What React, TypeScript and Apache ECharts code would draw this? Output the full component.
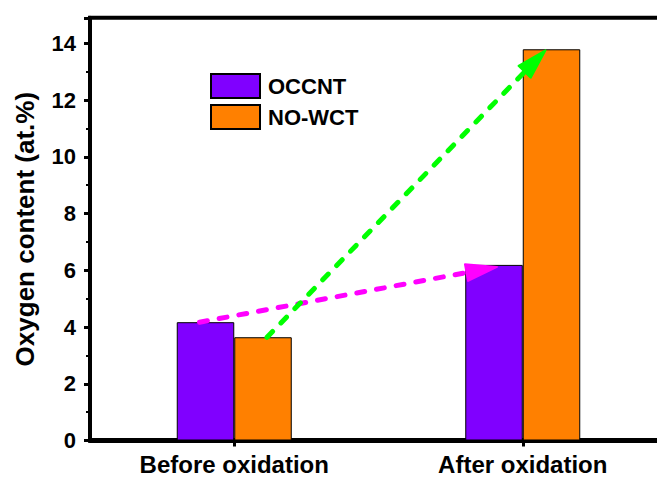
import React, { useEffect, useRef } from 'react';
import * as echarts from 'echarts';

const categories = ['Before oxidation', 'After oxidation'];
const seriesNames = ['OCCNT', 'NO-WCT'];
const occntValues = [4.17, 6.19];
const nowctValues = [3.64, 13.79];
const yMin = 0;
const yMax = 14.9;
const yInterval = 2;

const FONT = "'Liberation Sans', Arial, Helvetica, sans-serif";
const PURPLE = '#8000FF';
const ORANGE = '#FF8000';
const BAR_W = 57.5;

export default function App() {
  const ref = useRef<HTMLDivElement>(null);
  useEffect(() => {
    const chart = echarts.init(ref.current!, null, { renderer: 'svg' });
    chart.setOption({
      animation: false,
      backgroundColor: '#fff',
      grid: {
        left: 90, width: 577, top: 17.8, bottom: 40.5,
        containLabel: false,
        outerBoundsMode: 'none',
        show: true, borderWidth: 4, borderColor: '#000', backgroundColor: 'transparent',
      },
      legend: {
        data: seriesNames,
        orient: 'vertical',
        left: 210, top: 73,
        padding: 0,
        itemWidth: 49, itemHeight: 24, itemGap: 5,
        icon: 'rect',
        textStyle: { fontFamily: FONT, fontWeight: 'bold', fontSize: 22, color: '#000', padding: [0, 0, 0, 3] },
      },
      xAxis: {
        type: 'category',
        data: categories,
        axisLine: { lineStyle: { color: '#000', width: 5 } },
        axisTick: { show: true, alignWithLabel: true, length: 6, lineStyle: { color: '#000', width: 3 } },
        axisLabel: { fontFamily: FONT, fontWeight: 'bold', fontSize: 24, color: '#000', margin: 12 },
      },
      yAxis: {
        type: 'value',
        min: yMin, max: yMax, interval: yInterval,
        name: 'Oxygen content (at.%)',
        nameLocation: 'middle',
        nameGap: 52,
        nameTextStyle: { fontFamily: FONT, fontWeight: 'bold', fontSize: 26, color: '#000' },
        axisLine: { show: true, lineStyle: { color: '#000', width: 4 } },
        axisTick: { show: true, length: 6, lineStyle: { color: '#000', width: 3 } },
        minorTick: { show: true, splitNumber: 2, length: 4, lineStyle: { color: '#000', width: 2 } },
        splitLine: { show: false },
        axisLabel: {
          fontFamily: FONT, fontWeight: 'bold', fontSize: 22, color: '#000', margin: 14,
          showMaxLabel: false,
          formatter: (v: number) => (v % yInterval === 0 ? String(v) : ''),
        },
      },
      series: [
        {
          name: seriesNames[0], type: 'bar', data: occntValues, barWidth: BAR_W, barGap: '0%',
          itemStyle: { color: PURPLE, borderColor: '#000', borderWidth: 1 },
        },
        {
          name: seriesNames[1], type: 'bar', data: nowctValues, barWidth: BAR_W, barGap: '0%',
          itemStyle: { color: ORANGE, borderColor: '#000', borderWidth: 1 },
        },
      ],
    });

    const pt = (ci: number, v: number, side: number, dx: number, dy: number) => {
      const p = chart.convertToPixel({ gridIndex: 0 }, [ci, v]) as number[];
      return [p[0] + (side * BAR_W) / 2 + dx, p[1] + dy];
    };
    const arrow = (s: number[], e: number[], color: string, L: number, H: number) => {
      const dx = e[0] - s[0], dy = e[1] - s[1];
      const len = Math.hypot(dx, dy);
      const ux = dx / len, uy = dy / len;
      const bx = e[0] - ux * L, by = e[1] - uy * L;
      const px = -uy, py = ux;
      return [
        {
          type: 'line', z: 100,
          shape: { x1: s[0], y1: s[1], x2: bx + ux * 4, y2: by + uy * 4 },
          style: { stroke: color, lineWidth: 5, lineDash: [8, 12], lineCap: 'round' },
        },
        {
          type: 'polygon', z: 100,
          shape: { points: [[e[0], e[1]], [bx + px * H, by + py * H], [bx - px * H, by - py * H]] },
          style: { fill: color, stroke: color, lineWidth: 2, lineJoin: 'round' },
        },
      ];
    };
    const magS = pt(0, occntValues[0], -1, -6, 0);
    const magE = pt(1, occntValues[1], -1, 3, 2);
    const grnS = pt(0, nowctValues[0], 1, 4, 0);
    const grnE = pt(1, nowctValues[1], 1, -6, 1);
    chart.setOption({
      graphic: [
        ...arrow(magS, magE, '#FF00FF', 31, 8.5),
        ...arrow(grnS, grnE, '#00FF00', 30, 8.5),
      ],
    });
    return () => chart.dispose();
  }, []);
  return <div ref={ref} style={{ position: 'fixed', left: 0, top: 0, width: 657, height: 481 }} />;
}
